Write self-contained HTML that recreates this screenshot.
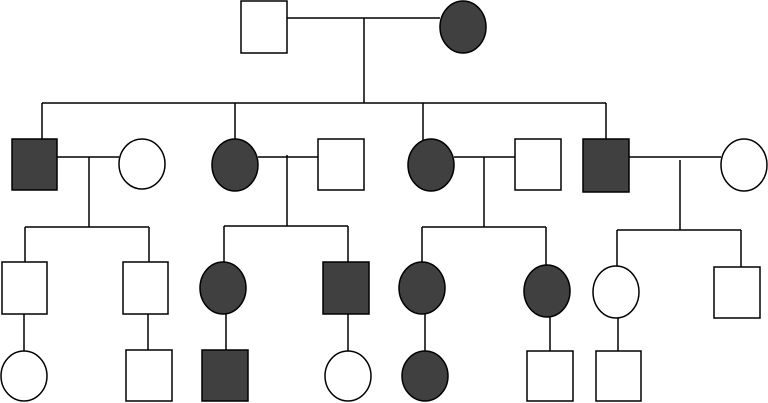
<!DOCTYPE html>
<html><head><style>html,body{margin:0;padding:0;background:#fff}svg{display:block}</style></head>
<body>
<svg width="768" height="403" viewBox="0 0 768 403" xmlns="http://www.w3.org/2000/svg">
<g stroke="#000" stroke-width="1.5" fill="none">
<!-- lines -->
<path d="M287 18H440M364 18V103M42 103H606M42 103V139M235 103V140M423 103V140M606 103V139"/>
<path d="M57 157H119M89 157V227M25 227H149M25 227V262M149 227V262"/>
<path d="M258 157H318M287 155V226M224 226H348M224 226V263M348 226V262"/>
<path d="M454 157H515M484 157V227M422 227H546M422 227V263M546 227V266"/>
<path d="M629 157H721M680 160V230M617 230H741M617 230V266M741 230V267"/>
<path d="M24 314V351M148 314V350M226 314V350M348 314V351M425 314V351M550 317V351M618 318V351"/>
</g>
<g stroke="#000" stroke-width="1.5">
<rect x="241" y="1" width="46" height="52" fill="#fff"/>
<ellipse cx="463" cy="27" rx="23" ry="26" fill="#404040"/>
<rect x="12" y="139" width="45" height="51" fill="#404040"/>
<ellipse cx="142" cy="164" rx="23" ry="25" fill="#fff"/>
<ellipse cx="235" cy="165" rx="23" ry="26" fill="#404040"/>
<rect x="318" y="139" width="46" height="51" fill="#fff"/>
<ellipse cx="431" cy="165" rx="23" ry="26" fill="#404040"/>
<rect x="515" y="139" width="46" height="51" fill="#fff"/>
<rect x="583" y="139" width="46" height="53" fill="#404040"/>
<ellipse cx="744" cy="165" rx="23" ry="26" fill="#fff"/>
<rect x="2" y="262" width="45" height="52" fill="#fff"/>
<rect x="123" y="262" width="45" height="52" fill="#fff"/>
<ellipse cx="223" cy="288" rx="23" ry="26" fill="#404040"/>
<rect x="323" y="262" width="46" height="52" fill="#404040"/>
<ellipse cx="422" cy="288" rx="23" ry="26" fill="#404040"/>
<ellipse cx="547" cy="291" rx="23" ry="26" fill="#404040"/>
<ellipse cx="616" cy="292" rx="23" ry="26" fill="#fff"/>
<rect x="714" y="267" width="46" height="51" fill="#fff"/>
<ellipse cx="24" cy="376" rx="23" ry="25" fill="#fff"/>
<rect x="126" y="350" width="46" height="51" fill="#fff"/>
<rect x="202" y="350" width="46" height="51" fill="#404040"/>
<ellipse cx="348" cy="376" rx="23" ry="25" fill="#fff"/>
<ellipse cx="425" cy="376" rx="23" ry="25" fill="#404040"/>
<rect x="527" y="351" width="46" height="50" fill="#fff"/>
<rect x="596" y="351" width="45" height="50" fill="#fff"/>
</g>
</svg>
</body></html>
